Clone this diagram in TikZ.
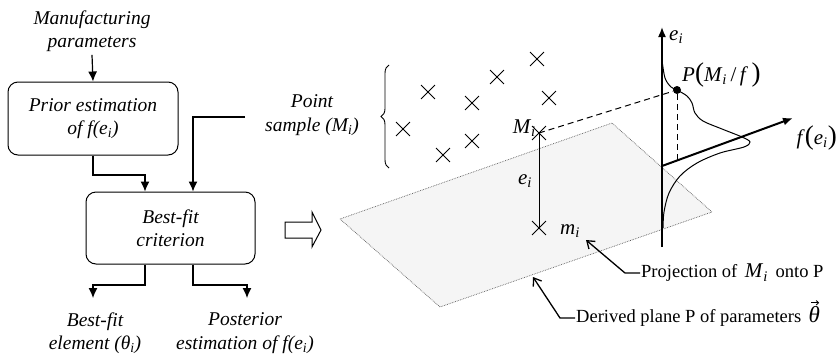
\documentclass[tikz,border=0pt]{standalone}
\usepackage{fontspec}
\setmainfont{Liberation Serif}
\usetikzlibrary{arrows.meta,shapes.misc,decorations.pathreplacing}
\newcommand{\sbi}[1]{\textit{#1}\textsubscript{\textit{i}}}
\newcommand{\lblfont}{\fontsize{19.5}{23.5}\selectfont\itshape}
\newcommand{\mathfont}{\fontsize{21}{24}\selectfont}
\newcommand{\notefont}{\fontsize{18.5}{22}\selectfont}
\newcommand{\bigp}[1]{{\fontsize{27}{27}\selectfont #1}}
\begin{document}
\begin{tikzpicture}[x=1pt,y=-1pt,
  box/.style={draw,rounded corners=10pt,line width=1pt,minimum width=170pt,minimum height=73pt,align=center,font=\lblfont},
  txt/.style={align=center,font=\lblfont,inner sep=3pt},
  arr/.style={line width=1.2pt,-{Latex[length=10pt,width=9pt]}},
  lead/.style={line width=1.3pt,-{Straight Barb[length=7pt,width=10pt]}},
  xmark/.style={cross out,draw,minimum size=13pt,inner sep=0pt,line width=0.9pt},
  axisline/.style={line width=1.6pt,-{Latex[length=10pt,width=8pt]}},
  dsh/.style={line width=1pt,dash pattern=on 6pt off 4pt}]
\useasboundingbox (0,0) rectangle (838,354);
% ---------- left flow chart ----------
\node[txt] (manuf) at (92,31) {Manufacturing\\parameters};
\node[box] (prior) at (93,118.5) {Prior estimation\\of \textit{f}(\textit{e}\textsubscript{\textit{i}})};
\node[box,minimum width=169pt,minimum height=72pt] (best) at (170.5,228) {Best-fit\\criterion};
\draw[arr] (manuf.south) -- (prior.north);
\coordinate (ps) at (245,117);
\coordinate (k1) at (93,175);
\draw[arr] (prior.south) -- (k1) -| ([xshift=-25.5pt]best.north);
\draw[arr] (ps) -| ([xshift=22.5pt]best.north);
\coordinate (o1) at (93,298);
\coordinate (o2) at (247,298);
\draw[arr] ([xshift=-25.5pt]best.south) |- (93,285) -- (o1);
\draw[arr] ([xshift=22.5pt]best.south) |- (247,285) -- (o2);
\node[txt] (bfe) at (95,333) {Best-fit\\element (\textit{θ}\textsubscript{\textit{i}})};
\node[txt] (post) at (245,333) {Posterior\\estimation of \textit{f}(\textit{e}\textsubscript{\textit{i}})};
% hollow arrow
\draw[line width=1pt,fill=white] (285,222) -- (312,222) -- (312,212) -- (321,230) -- (312,247) -- (312,238) -- (285,238) -- cycle;
% ---------- plane ----------
\coordinate (p1) at (340,219);
\coordinate (p2) at (612,123);
\coordinate (p3) at (712,212);
\coordinate (p4) at (440,307);
\fill[black!4] (p1) -- (p2) -- (p3) -- (p4) -- cycle;
\draw[densely dotted,black!65,line width=0.7pt] (p1) -- (p2) -- (p3) -- (p4) -- cycle;
% ---------- point sample ----------
\node[txt] (psl) at (312,115) {Point\\sample (\textit{M}\textsubscript{\textit{i}})};
\draw[decorate,decoration={brace,amplitude=8pt},line width=0.9pt] (389,168) -- (389,65);
\node[xmark] (c1) at (428,92) {};
\node[xmark] (c2) at (497,77) {};
\node[xmark] (c3) at (537,59) {};
\node[xmark] (c4) at (472,103) {};
\node[xmark] (c5) at (549,98) {};
\node[xmark] (c6) at (403,129) {};
\node[xmark] (c7) at (472,141) {};
\node[xmark] (c8) at (443,155) {};
\node[xmark] (M) at (539,133) {};
\node[xmark] (m) at (539,228) {};
\draw[line width=1pt] (M.center) -- (m.center);
\node[font=\mathfont,anchor=east,inner sep=1pt] (Ml) at (537,128) {\sbi{M}};
\node[font=\mathfont,inner sep=1pt] (el) at (525,181) {\sbi{e}};
\node[font=\mathfont,inner sep=1pt] (ml) at (570,231) {\sbi{m}};
% ---------- density ----------
\coordinate (O) at (662,166);
\coordinate (ebot) at (662,247);
\coordinate (etop) at (662,27);
\coordinate (fend) at (793,118);
\node[circle,fill,inner sep=0pt,minimum size=8pt] (dot) at (677,90) {};
\coordinate (fa) at (677,161);
\draw[dsh] (M.center) -- (dot);
\draw[dsh] (dot) -- (fa);
\draw[line width=1pt] plot[smooth,tension=0.55] coordinates {(662,60) (665,78) (671,87) (677,90) (687,96) (692,103) (695,113) (703,121) (722,129) (742,137) (750,142) (744,147) (720,153) (697,163) (680,176) (669,193) (664,212) (663,228)};
\draw[axisline] (ebot) -- (etop);
\draw[axisline,line width=2pt] (O) -- (fend);
\node[font=\mathfont,anchor=west,inner sep=1pt] (eil) at (668,37) {\sbi{e}};
\node[font=\mathfont,anchor=west,inner sep=1pt] (Pl) at (681,75) {\textit{P}\bigp{(}\sbi{M}\,/\,\textit{f}\,\bigp{)}};
\node[font=\mathfont,anchor=east,inner sep=1pt] (fl) at (838,138) {\textit{f}\bigp{(}\sbi{e}\bigp{)}};
% ---------- annotations ----------
\node[font=\notefont,anchor=west,inner sep=1pt] (proj) at (640,273) {Projection of \,{\mathfont\sbi{M}}\, onto P};
\coordinate (pt1) at (586,240);
\draw[lead] (proj.west) -- ++(-15,0) -- (pt1);
\node[font=\notefont,anchor=west,inner sep=1pt] (der) at (575,318) {Derived plane P of parameters};
\node[font=\fontsize{23}{24}\selectfont\itshape,anchor=base west,inner sep=1pt] (th) at ([xshift=5pt]der.base east) {θ};
\draw[line width=0.8pt,-{Straight Barb[length=2.5pt,width=4.5pt]}] ([xshift=-3pt,yshift=2.5pt]th.north) -- ([xshift=5pt,yshift=2.5pt]th.north);
\coordinate (pt2) at (533,277);
\draw[lead] (der.west) -- ++(-15,0) -- (pt2);
\end{tikzpicture}
\end{document}
